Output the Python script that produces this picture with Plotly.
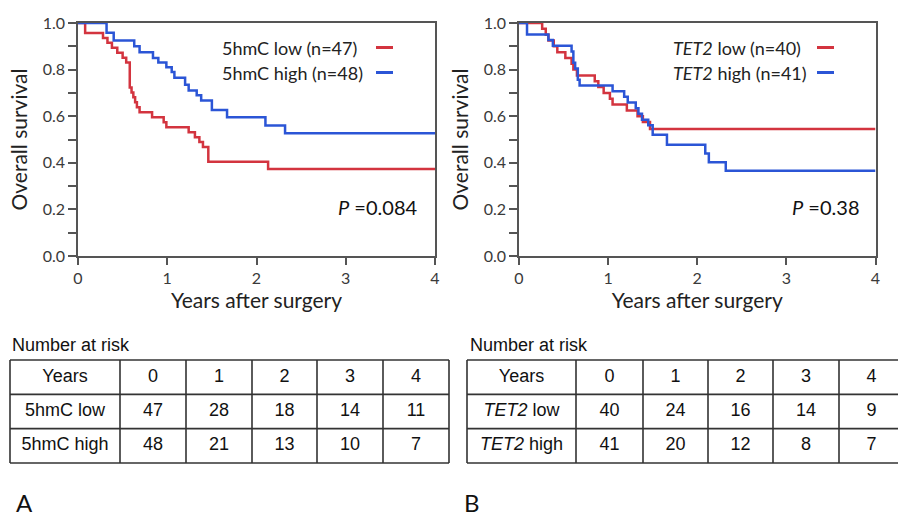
import plotly.graph_objects as go

W, H = 898, 517

# ---------------- data ----------------
# Panel A: 5hmC
hmc_low_t = [0, 0.08, 0.28, 0.33, 0.38, 0.44, 0.50, 0.54, 0.58, 0.60, 0.62, 0.64, 0.66, 0.69,
             0.83, 0.96, 0.99, 1.24, 1.31, 1.36, 1.40, 1.46, 2.13, 4.0]
hmc_low_s = [1.0, 0.957, 0.936, 0.915, 0.894, 0.872, 0.851, 0.83, 0.723, 0.702, 0.681, 0.66, 0.638, 0.617,
             0.596, 0.574, 0.553, 0.531, 0.51, 0.489, 0.468, 0.404, 0.373, 0.373]
hmc_high_t = [0, 0.32, 0.40, 0.63, 0.69, 0.84, 0.90, 0.99, 1.05, 1.08, 1.20, 1.24, 1.33, 1.38,
              1.50, 1.67, 2.10, 2.32, 4.0]
hmc_high_s = [1.0, 0.958, 0.925, 0.90, 0.875, 0.85, 0.83, 0.81, 0.79, 0.765, 0.735, 0.71, 0.69, 0.667,
              0.627, 0.596, 0.56, 0.527, 0.527]

# Panel B: TET2
tet_low_t = [0, 0.26, 0.30, 0.33, 0.39, 0.43, 0.52, 0.59, 0.61, 0.65, 0.85, 0.89, 0.95, 1.02,
             1.05, 1.21, 1.33, 1.39, 1.47, 4.0]
tet_low_s = [1.0, 0.975, 0.95, 0.925, 0.90, 0.875, 0.85, 0.825, 0.80, 0.775, 0.75, 0.725, 0.70, 0.675,
             0.65, 0.625, 0.60, 0.575, 0.545, 0.545]
tet_high_t = [0, 0.09, 0.33, 0.38, 0.59, 0.61, 0.63, 0.66, 0.68, 1.05, 1.18, 1.22, 1.31, 1.34,
              1.38, 1.45, 1.50, 1.66, 2.09, 2.13, 2.32, 4.0]
tet_high_s = [1.0, 0.951, 0.927, 0.902, 0.878, 0.829, 0.805, 0.756, 0.732, 0.707, 0.683, 0.659, 0.634, 0.61,
              0.585, 0.561, 0.52, 0.478, 0.44, 0.402, 0.366, 0.366]

legend_A = ["5hmC low (n=47)", "5hmC high (n=48)"]
legend_B = ["<i>TET2</i> low (n=40)", "<i>TET2</i> high (n=41)"]
p_A = "<i>P</i> =0.084"
p_B = "<i>P</i> =0.38"

years = ["Years", "0", "1", "2", "3", "4"]
risk_A_rows = ["5hmC low", "5hmC high"]
risk_A_low = [47, 28, 18, 14, 11]
risk_A_high = [48, 21, 13, 10, 7]
risk_B_rows = ["<i>TET2</i> low", "<i>TET2</i> high"]
risk_B_low = [40, 24, 16, 14, 9]
risk_B_high = [41, 20, 12, 8, 7]

RED = "#d3343f"
BLUE = "#2b55d6"
FONT = "Lato, 'Open Sans', sans-serif"
TFONT = "'Liberation Sans', Arial, sans-serif"

def px(x):
    return x / W

def py(y):
    return 1 - y / H

fig = go.Figure()

for t, s, c, ax in [(hmc_low_t, hmc_low_s, RED, "x"), (hmc_high_t, hmc_high_s, BLUE, "x"),
                    (tet_low_t, tet_low_s, RED, "x2"), (tet_high_t, tet_high_s, BLUE, "x2")]:
    fig.add_trace(go.Scatter(x=t, y=s, mode="lines", line=dict(color=c, width=2.5, shape="hv"),
                             xaxis=ax, yaxis="y" if ax == "x" else "y2", showlegend=False,
                             hoverinfo="skip"))

ydom = [py(256), py(23)]
common_x = dict(range=[0, 4], tickvals=[0, 1, 2, 3, 4], ticks="outside", ticklen=7, tickwidth=1.5,
                tickcolor="#555", showline=True, linecolor="#555", linewidth=1.5, mirror=True,
                showgrid=False, zeroline=False, automargin=False,
                tickfont=dict(family=FONT, size=16, color="#3a3a3a"),
                title=dict(text="Years after surgery", font=dict(family=FONT, size=21, color="#222"),
                           standoff=4))
common_y = dict(range=[0, 1], dtick=0.2, tickformat=".1f", ticks="outside", ticklen=8, tickwidth=1.5,
                tickcolor="#555", showline=True, linecolor="#555", linewidth=1.5, mirror=True,
                showgrid=False, zeroline=False, automargin=False,
                tickfont=dict(family=FONT, size=16, color="#3a3a3a"),
                minor=dict(dtick=0.1, ticks="outside", ticklen=8, tickwidth=1.5, tickcolor="#555",
                           showgrid=False),
                title=dict(text="Overall survival", font=dict(family=FONT, size=21, color="#222"),
                           standoff=9))

# ---------------- number-at-risk tables (on hidden axes) ----------------
def add_table(rows, low, high, widths, xa, ya):
    bounds = [0]
    for w in widths:
        bounds.append(bounds[-1] + w)
    centers = [(a + b) / 2 for a, b in zip(bounds[:-1], bounds[1:])]
    gx, gy = [], []
    for r in range(4):
        gx += [bounds[0], bounds[-1], None]
        gy += [r, r, None]
    for b in bounds:
        gx += [b, b, None]
        gy += [0, 3, None]
    fig.add_trace(go.Scatter(x=gx, y=gy, mode="lines", line=dict(color="#333", width=1.6),
                             xaxis=xa, yaxis=ya, showlegend=False, hoverinfo="skip"))
    cells = [years, [rows[0]] + [str(v) for v in low], [rows[1]] + [str(v) for v in high]]
    tx, ty, tt = [], [], []
    for r, row in enumerate(cells):
        for c, val in enumerate(row):
            tx.append(centers[c])
            ty.append(r + 0.5)
            tt.append(val)
    fig.add_trace(go.Scatter(x=tx, y=ty, text=tt, mode="text", textposition="middle center",
                             textfont=dict(family=TFONT, size=18, color="#111"),
                             xaxis=xa, yaxis=ya, showlegend=False, hoverinfo="skip"))
    return bounds

wA = [110, 66, 66, 65, 66, 66]
wB = [109, 67, 65, 65, 66, 65]
add_table(risk_A_rows, risk_A_low, risk_A_high, wA, "x3", "y3")
add_table(risk_B_rows, risk_B_low, risk_B_high, wB, "x4", "y4")

rowpx = (463 - 360) / 3.0
tab_ydom = [py(464), py(359)]
tab_yrange = [3 + 1 / rowpx, -1 / rowpx]
hidden = dict(visible=False, showgrid=False, zeroline=False, fixedrange=True, automargin=False)

fig.update_layout(
    width=W, height=H, margin=dict(l=0, r=0, t=0, b=0, autoexpand=False),
    paper_bgcolor="white", plot_bgcolor="white",
    xaxis=dict(domain=[px(78), px(435)], anchor="y", **common_x),
    yaxis=dict(domain=ydom, anchor="x", **common_y),
    xaxis2=dict(domain=[px(519), px(875.5)], anchor="y2", **common_x),
    yaxis2=dict(domain=ydom, anchor="x2", **common_y),
    xaxis3=dict(domain=[px(9), px(450)], range=[-1, 440], anchor="y3", **hidden),
    yaxis3=dict(domain=tab_ydom, range=tab_yrange, anchor="x3", **hidden),
    xaxis4=dict(domain=[px(466), 1.0], range=[-1, 431], anchor="y4", **hidden),
    yaxis4=dict(domain=tab_ydom, range=tab_yrange, anchor="x4", **hidden),
)

ann = []
shapes = []
for labels, xt, xl in [(legend_A, 220, 376), (legend_B, 671, 817)]:
    for lab, yy, col in zip(labels, [48, 73], [RED, BLUE]):
        ann.append(dict(text=lab, x=px(xt), y=py(yy), xref="paper", yref="paper", xanchor="left",
                        yanchor="middle", showarrow=False, font=dict(family=FONT, size=18, color="#222")))
        shapes.append(dict(type="line", xref="paper", yref="paper", x0=px(xl), x1=px(xl + 17),
                           y0=py(yy - 0.5), y1=py(yy - 0.5), line=dict(color=col, width=3)))

ann.append(dict(text=p_A, x=px(419), y=py(207), xref="paper", yref="paper", xanchor="right",
                yanchor="middle", showarrow=False, font=dict(family=FONT, size=20, color="#111")))
ann.append(dict(text=p_B, x=px(862), y=py(207), xref="paper", yref="paper", xanchor="right",
                yanchor="middle", showarrow=False, font=dict(family=FONT, size=20, color="#111")))

for xx in [10, 468]:
    ann.append(dict(text="Number at risk", x=px(xx), y=py(345), xref="paper", yref="paper",
                    xanchor="left", yanchor="middle", showarrow=False,
                    font=dict(family=TFONT, size=18, color="#111")))

ann.append(dict(text="A", x=px(14), y=py(502), xref="paper", yref="paper", xanchor="left",
                yanchor="middle", showarrow=False, font=dict(family=FONT, size=24, color="#111")))
ann.append(dict(text="B", x=px(462), y=py(502), xref="paper", yref="paper", xanchor="left",
                yanchor="middle", showarrow=False, font=dict(family=FONT, size=24, color="#111")))

fig.update_layout(annotations=ann, shapes=shapes)

fig.write_html("out.html")
